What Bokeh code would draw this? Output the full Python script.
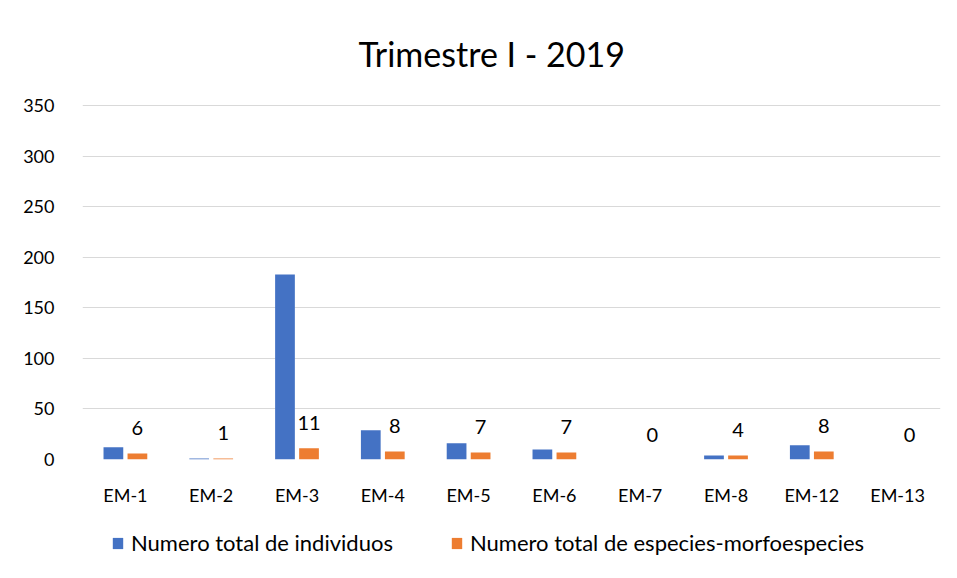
from bokeh.plotting import figure
from bokeh.layouts import column
from bokeh.models import FactorRange, Range1d, FixedTicker, Legend, LegendItem, ColumnDataSource
from bokeh.transform import dodge
from bokeh.core.properties import value
from bokeh.embed import file_html
from bokeh.resources import INLINE

categories = ["EM-1", "EM-2", "EM-3", "EM-4", "EM-5", "EM-6", "EM-7", "EM-8", "EM-12", "EM-13"]
individuos = [12, 1, 183, 29, 16, 10, 0, 4, 14, 0]
especies = [6, 1, 11, 8, 7, 7, 0, 4, 8, 0]
y_ticks = [0, 50, 100, 150, 200, 250, 300, 350]
series_names = ["Numero total de individuos", "Numero total de especies-morfoespecies"]
title_text = "Trimestre I - 2019"

FONT = "Lato"
BLUE = "#4472C4"
ORANGE = "#ED7D31"
GRID = "#d9d9d9"

src = ColumnDataSource(dict(cat=categories, ind=individuos, esp=especies,
                            lab=[str(v) for v in especies]))

p = figure(width=941, height=510, output_backend="svg", toolbar_location=None,
           x_range=FactorRange(factors=categories, range_padding=0),
           y_range=Range1d(0, 351),
           min_border_left=82, min_border_right=1, min_border_top=104, min_border_bottom=51)

p.title.text = title_text
p.title.align = "left"
p.title.offset = 276
p.title.text_font = FONT
p.title.text_font_size = "34px"
p.title.text_font_style = "normal"
p.title.text_color = "#000000"
p.title.standoff = 61

r1 = p.vbar(x=dodge("cat", -0.14, range=p.x_range), top="ind", width=0.23, source=src,
            fill_color=BLUE, line_color=None)
r2 = p.vbar(x=dodge("cat", 0.14, range=p.x_range), top="esp", width=0.23, source=src,
            fill_color=ORANGE, line_color=None)

p.text(x=dodge("cat", 0.14, range=p.x_range), y="esp", text="lab", source=src,
       y_offset=-25, text_align="center", text_baseline="middle",
       text_font=value(FONT), text_font_size="20px", text_color="#000000")

p.outline_line_color = None
p.xgrid.grid_line_color = None
p.ygrid.grid_line_color = GRID
p.ygrid.grid_line_width = 1
p.yaxis.ticker = FixedTicker(ticks=y_ticks)

for ax in (p.xaxis, p.yaxis):
    ax.axis_line_color = None
    ax.major_tick_line_color = None
    ax.minor_tick_line_color = None
    ax.major_label_text_font = FONT
    ax.major_label_text_font_size = "18px"
    ax.major_label_text_color = "#000000"
p.yaxis.major_label_standoff = 22
p.xaxis.major_label_standoff = 18

# legend strip below the chart (bars drawn outside its visible y range)
p2 = figure(width=941, height=52, output_backend="svg", toolbar_location=None,
            x_range=p.x_range, y_range=Range1d(1000, 1001),
            x_axis_type=None, y_axis_type=None,
            min_border_left=0, min_border_right=0, min_border_top=0, min_border_bottom=0)
p2.outline_line_color = None
p2.grid.visible = False
l1 = p2.vbar(x="cat", top="ind", width=0.23, source=src, fill_color=BLUE, line_color=None)
l2 = p2.vbar(x="cat", top="esp", width=0.23, source=src, fill_color=ORANGE, line_color=None)
legend = Legend(items=[LegendItem(label=series_names[0], renderers=[l1]),
                       LegendItem(label=series_names[1], renderers=[l2])],
                orientation="horizontal", location=(29, 6),
                label_text_font=FONT, label_text_font_size="22px", label_text_color="#000000",
                glyph_width=13, glyph_height=14, label_standoff=7, spacing=57,
                padding=0, margin=0, border_line_color=None, background_fill_alpha=0)
p2.add_layout(legend)

layout = column(p, p2, spacing=0)
open("out.html", "w").write(file_html(layout, INLINE))
